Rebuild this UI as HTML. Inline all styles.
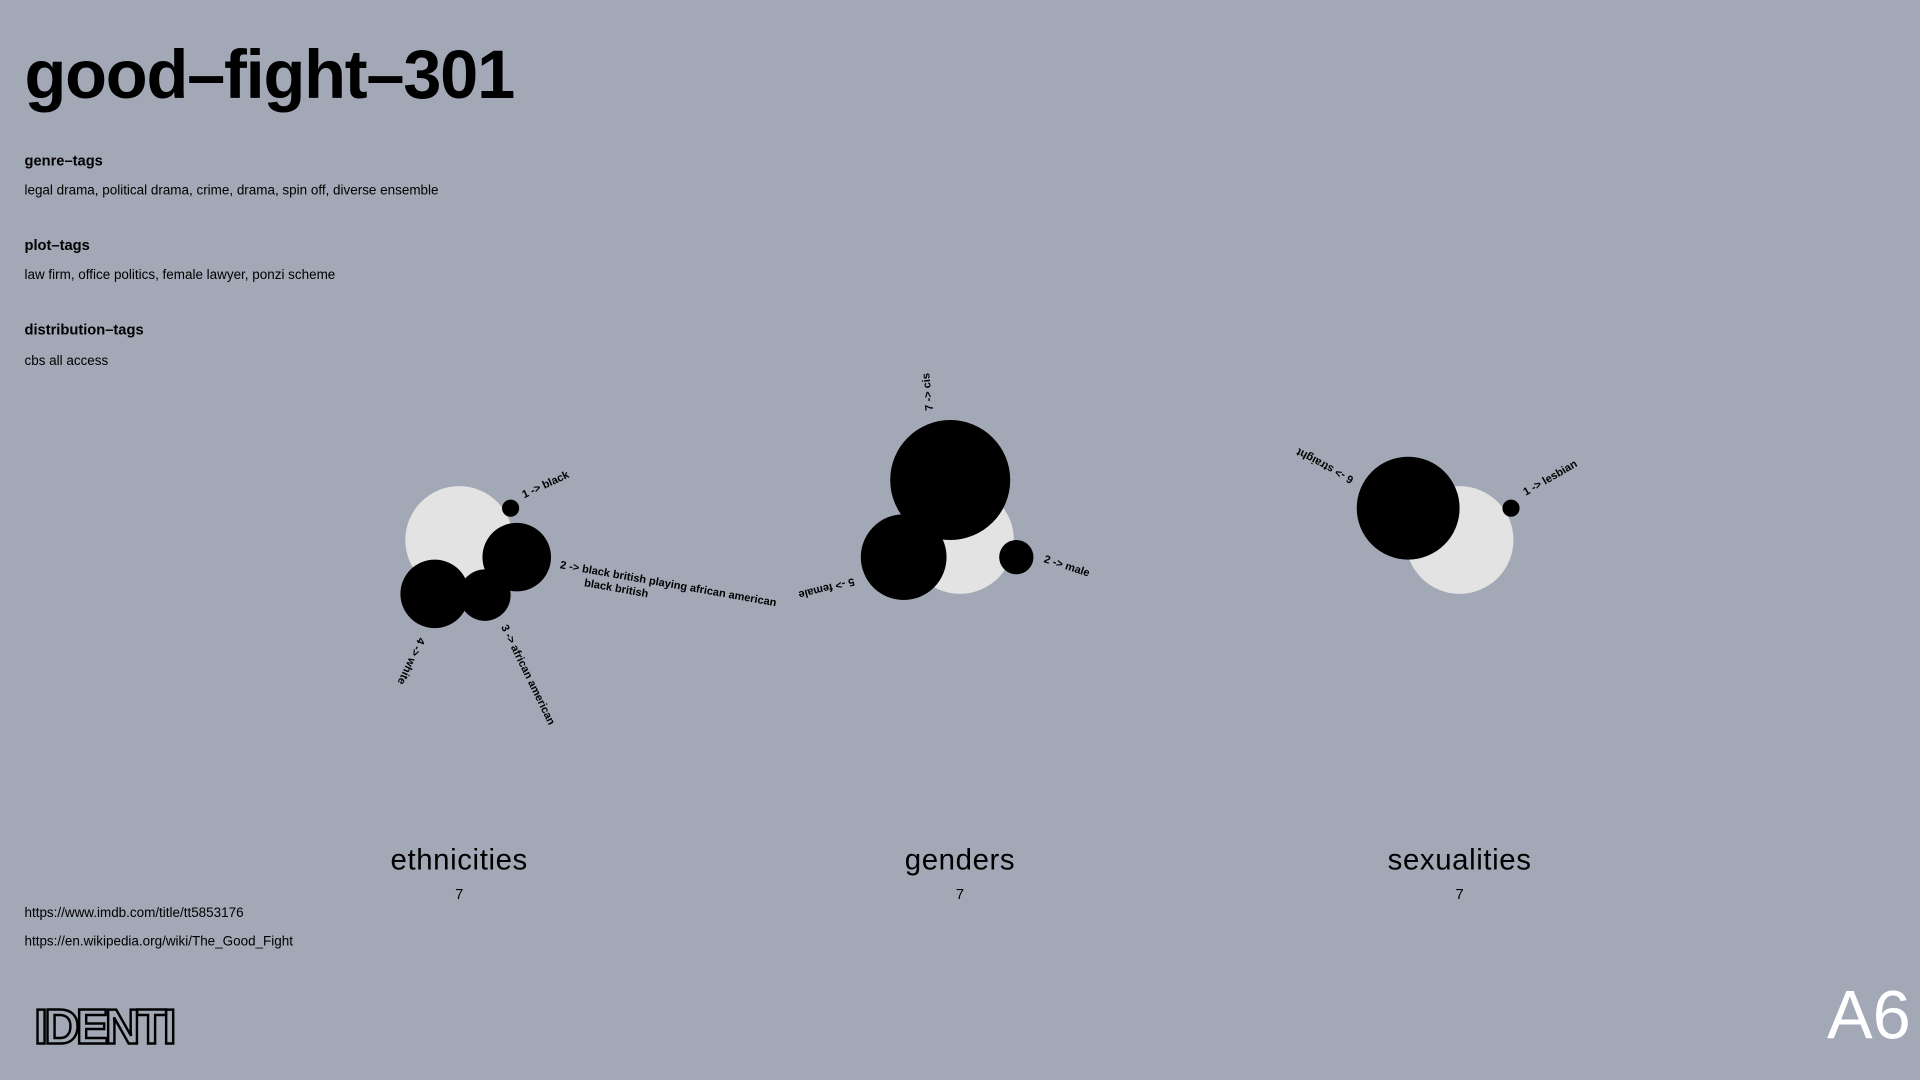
<!DOCTYPE html>
<html><head><meta charset="utf-8"><style>
html,body{margin:0;padding:0;background:#a2a8b5;}
svg{display:block}
text{font-family:"Liberation Sans",sans-serif;fill:#000}
</style></head><body>
<svg id="chart" width="1920" height="1080" viewBox="0 0 1568 882">
<rect width="1568" height="882" fill="#a2a8b5"/>
<text x="20" y="80" font-size="56" font-weight="bold" letter-spacing="-1">good–fight–301</text>
<text x="20" y="135" font-size="12" font-weight="bold">genre–tags</text>
<text x="20" y="159" font-size="11">legal drama, political drama, crime, drama, spin off, diverse ensemble</text>
<text x="20" y="204" font-size="12" font-weight="bold">plot–tags</text>
<text x="20" y="228" font-size="11">law firm, office politics, female lawyer, ponzi scheme</text>
<text x="20" y="273" font-size="12" font-weight="bold">distribution–tags</text>
<text x="20" y="298" font-size="11">cbs all access</text>
<text x="20" y="749" font-size="11">https://www.imdb.com/title/tt5853176</text>
<text x="20" y="772" font-size="11">https://en.wikipedia.org/wiki/The_Good_Fight</text>
<text x="28" y="852" font-size="40" font-weight="bold" stroke="#000" stroke-width="2" style="fill:none" letter-spacing="-3">IDENTI</text>
<text x="1492" y="848" font-size="56" style="fill:#fff">A6</text>
<g id="groups"></g>
</svg>
<script>
const groupNames = ["ethnicities","genders","sexualities"];
const groupTotals = [7,7,7];
const ethLabels = ["1 -> black","2 -> black british playing african american","3 -> african american","4 -> white"];
const ethValues = [1,4,3,4];
const genLabels = ["7 -> cis","5 -> female","2 -> male"];
const genValues = [7,5,2];
const sexLabels = ["6 -> straight","1 -> lesbian"];
const sexValues = [6,1];

const NS="http://www.w3.org/2000/svg";
const g=document.getElementById('groups');
const centers=[[375,441],[784,441],[1192,441]];
// [bubble dx, bubble dy, label dx, label dy, label rotation]
const layouts=[
 [[42,-26,11,-8,-25],[47,14,35,9,10],[21,45,13,26,64],[-20,44,-13,35,115]],
 [[-8,-49,-14,-57,-96],[-46,14,-41,17,166],[46,14,22,4,18]],
 [[-42,-26,-44,-25,208],[42,-26,12,-10,-30]]
];
const series=[[ethLabels,ethValues],[genLabels,genValues],[sexLabels,sexValues]];
const unit=7;
function circle(cx,cy,r,fill,name){
 const c=document.createElementNS(NS,'circle');
 c.setAttribute('cx',cx);c.setAttribute('cy',cy);c.setAttribute('r',r);c.setAttribute('fill',fill);
 
 
 g.appendChild(c);
}
function label(x,y,rot,txt,name){
 const t=document.createElementNS(NS,'text');
 t.setAttribute('x',x);t.setAttribute('y',y);t.setAttribute('font-size','9');t.setAttribute('font-weight','bold');
 t.setAttribute('transform','rotate('+rot+' '+x+' '+y+')');
 t.textContent=txt;
 
 
 g.appendChild(t);
 return t;
}
series.forEach((s,gi)=>{
 const [cx,cy]=centers[gi];
 circle(cx,cy,groupTotals[gi]*unit*44/49,'#e3e3e3',groupNames[gi]+'-total-circle');
 s[1].forEach((v,i)=>{
  const L=layouts[gi][i];
  const r=v*unit;
  const px=cx+L[0], py=cy+L[1];
  circle(px,py,r,'#000',groupNames[gi]+'-bubble-'+i);
  const tx=px+L[2], ty=py+L[3];
  label(tx,ty,L[4],s[0][i],groupNames[gi]+'-label-'+i);
  if(gi==0&&i==1){
   const t2=label(tx+22,ty+11,L[4],'black british','ethnicities-label-1b');
   t2.setAttribute('transform','rotate('+L[4]+' '+tx+' '+ty+')');
  }
 });
 const h=document.createElementNS(NS,'text');
 h.setAttribute('x',cx);h.setAttribute('y',710);h.setAttribute('font-size','24');h.setAttribute('text-anchor','middle');h.setAttribute('letter-spacing','0.5');
 h.textContent=groupNames[gi];
 
 
 g.appendChild(h);
 const n=document.createElementNS(NS,'text');
 n.setAttribute('x',cx);n.setAttribute('y',734);n.setAttribute('font-size','12');n.setAttribute('text-anchor','middle');
 n.textContent=groupTotals[gi];
 
 
 g.appendChild(n);
});
</script>
</body></html>
